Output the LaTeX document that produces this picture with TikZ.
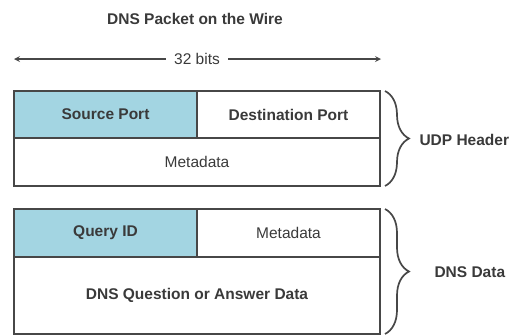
\documentclass[tikz,border=0pt]{standalone}
\usepackage{fontspec}
\setmainfont{Liberation Sans}
\usetikzlibrary{positioning, decorations.pathreplacing}
\definecolor{cellblue}{HTML}{A3D5E2}
\definecolor{linegray}{HTML}{474747}
\definecolor{textgray}{HTML}{3A3A3A}

\begin{document}
\begin{tikzpicture}[x=1pt, y=-1pt, font=\fontsize{15.5}{18}\selectfont, text=textgray,
    cell/.style={draw=linegray, line width=1.6pt, minimum width=183pt, minimum height=47pt, inner sep=0pt, outer sep=0pt},
    wide/.style={cell, minimum width=366pt},
    heavy/.style={font=\fontsize{15.5}{18}\selectfont\bfseries},
    curly/.style={draw=linegray, line width=1.7pt, decorate, decoration={brace, amplitude=24pt, aspect=0.5}},
    label/.style={heavy, anchor=west}]
    \useasboundingbox (0,0) rectangle (517,335);

    \node (title) [heavy] at (195,19) {DNS Packet on the Wire};
    \node (bits) [inner xsep=8pt] at (197,59) {32 bits};
    \coordinate (wl) at (14,59);
    \coordinate (wr) at (381,59);
    \draw[->, >=stealth, draw=linegray, line width=1.6pt] (bits) -- (wl);
    \draw[->, >=stealth, draw=linegray, line width=1.6pt] (bits) -- (wr);

    \node (src) [cell, fill=cellblue, anchor=north west, heavy] at (14,91) {Source Port};
    \node (dst) [cell, right=0pt of src, heavy] {Destination Port};
    \node (udpmeta) [wide, minimum height=48pt, anchor=north west] at (src.south west) {Metadata};

    \node (qid) [cell, fill=cellblue, anchor=north west, minimum height=48pt, heavy] at (14,209) {Query ID};
    \node (dnsmeta) [cell, minimum height=48pt, right=0pt of qid] {Metadata};
    \node (answer) [wide, minimum height=77pt, anchor=north west, heavy] at (qid.south west) {DNS Question or Answer Data};

    \draw[curly] ([xshift=5pt]dst.north east) -- ([xshift=5pt]udpmeta.south east);
    \draw[curly] ([xshift=5pt]dnsmeta.north east) -- ([xshift=5pt]answer.south east);

    \node (udp) [label] at (416,140) {UDP Header};
    \node (dns) [label] at (431,272) {DNS Data};
\end{tikzpicture}
\end{document}
